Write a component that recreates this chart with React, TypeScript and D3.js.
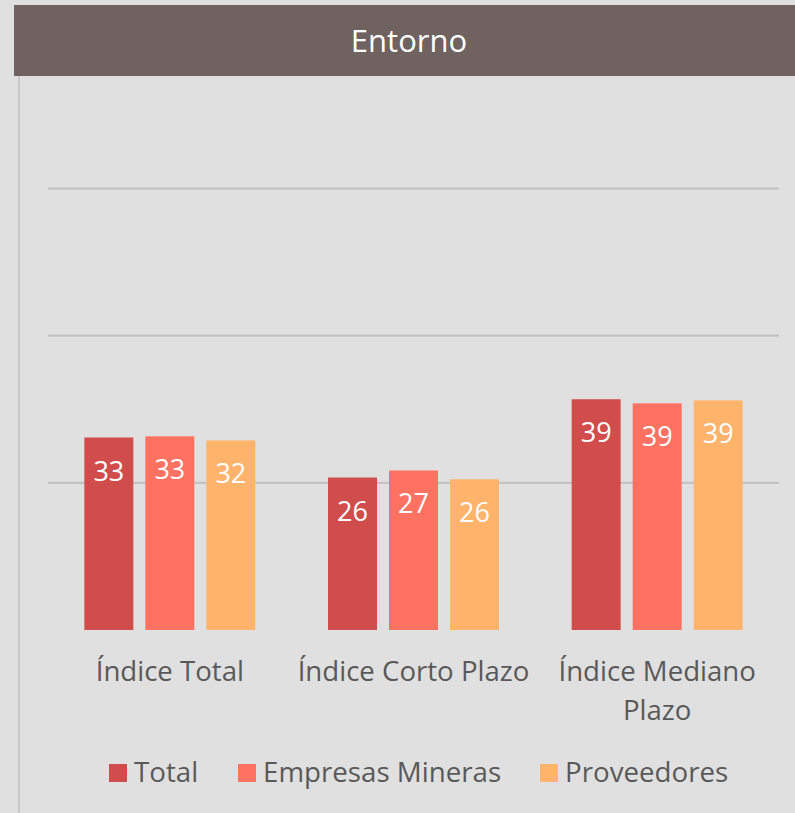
import React from "react";
import * as d3 from "d3";

const title = "Entorno";
const categories: string[][] = [["Índice Total"], ["Índice Corto Plazo"], ["Índice Mediano", "Plazo"]];
const categoryKeys = ["Índice Total", "Índice Corto Plazo", "Índice Mediano Plazo"];
const seriesNames = ["Total", "Empresas Mineras", "Proveedores"];
const seriesColors = ["#D14D4C", "#FF7262", "#FFB36B"];
const totalValues = [32.7, 25.9, 39.2];
const empresasValues = [32.9, 27.1, 38.5];
const proveedoresValues = [32.2, 25.6, 39.0];
const gridTicks = [25, 50, 75];

const seriesValues = [totalValues, empresasValues, proveedoresValues];

const W = 795;
const H = 813;
const FONT = "'Open Sans', sans-serif";

export default function App() {
  const plotLeft = 48;
  const plotRight = 779;
  const y = d3.scaleLinear().domain([0, 75]).range([630, 188.5]);
  const x0 = d3.scaleBand<string>().domain(categoryKeys).range([plotLeft, plotRight]).padding(0);
  const bw = x0.bandwidth();
  const groupW = 171;
  const x1 = d3
    .scaleBand<string>()
    .domain(seriesNames)
    .range([(bw - groupW) / 2, (bw + groupW) / 2])
    .paddingInner(12 / 61)
    .paddingOuter(0);

  const legendItems = [
    { name: seriesNames[0], sx: 109, tx: 134 },
    { name: seriesNames[1], sx: 238, tx: 263 },
    { name: seriesNames[2], sx: 540, tx: 565 },
  ];

  return (
    <svg
      width={W}
      height={H}
      style={{ position: "absolute", left: 0, top: 0, display: "block" }}
      fontFamily={FONT}
    >
      <rect x={0} y={0} width={W} height={H} fill="#E0E0E0" />
      <rect x={14} y={5} width={W - 14} height={71} fill="#6F6260" />
      <text x={409} y={52} fill="#FFFFFF" fontSize={31} textAnchor="middle">
        {title}
      </text>
      <rect x={18} y={76} width={2} height={H - 76} fill="#C9C9C9" />

      {gridTicks.map((t) => (
        <rect key={t} x={plotLeft} y={y(t) - 1} width={plotRight - plotLeft} height={2} fill="#C0C0C0" />
      ))}

      {categoryKeys.map((cat, ci) => (
        <g key={cat} transform={`translate(${x0(cat)},0)`}>
          {seriesNames.map((s, si) => {
            const v = seriesValues[si][ci];
            const bx = x1(s) as number;
            const top = y(v);
            return (
              <g key={s}>
                <rect x={bx} y={top} width={x1.bandwidth()} height={y(0) - top} fill={seriesColors[si]} />
                <text
                  x={bx + x1.bandwidth() / 2}
                  y={top + 43}
                  fill="#FFFFFF"
                  fontSize={27}
                  textAnchor="middle"
                >
                  {Math.round(v)}
                </text>
              </g>
            );
          })}
          {categories[ci].map((line, li) => (
            <text
              key={li}
              x={bw / 2}
              y={681 + li * 39}
              fill="#595959"
              fontSize={27.6}
              textAnchor="middle"
            >
              {line}
            </text>
          ))}
        </g>
      ))}

      {legendItems.map((it, i) => (
        <g key={it.name}>
          <rect x={it.sx} y={764} width={18} height={18} fill={seriesColors[i]} />
          <text x={it.tx} y={782} fill="#595959" fontSize={27.7}>
            {it.name}
          </text>
        </g>
      ))}
    </svg>
  );
}
